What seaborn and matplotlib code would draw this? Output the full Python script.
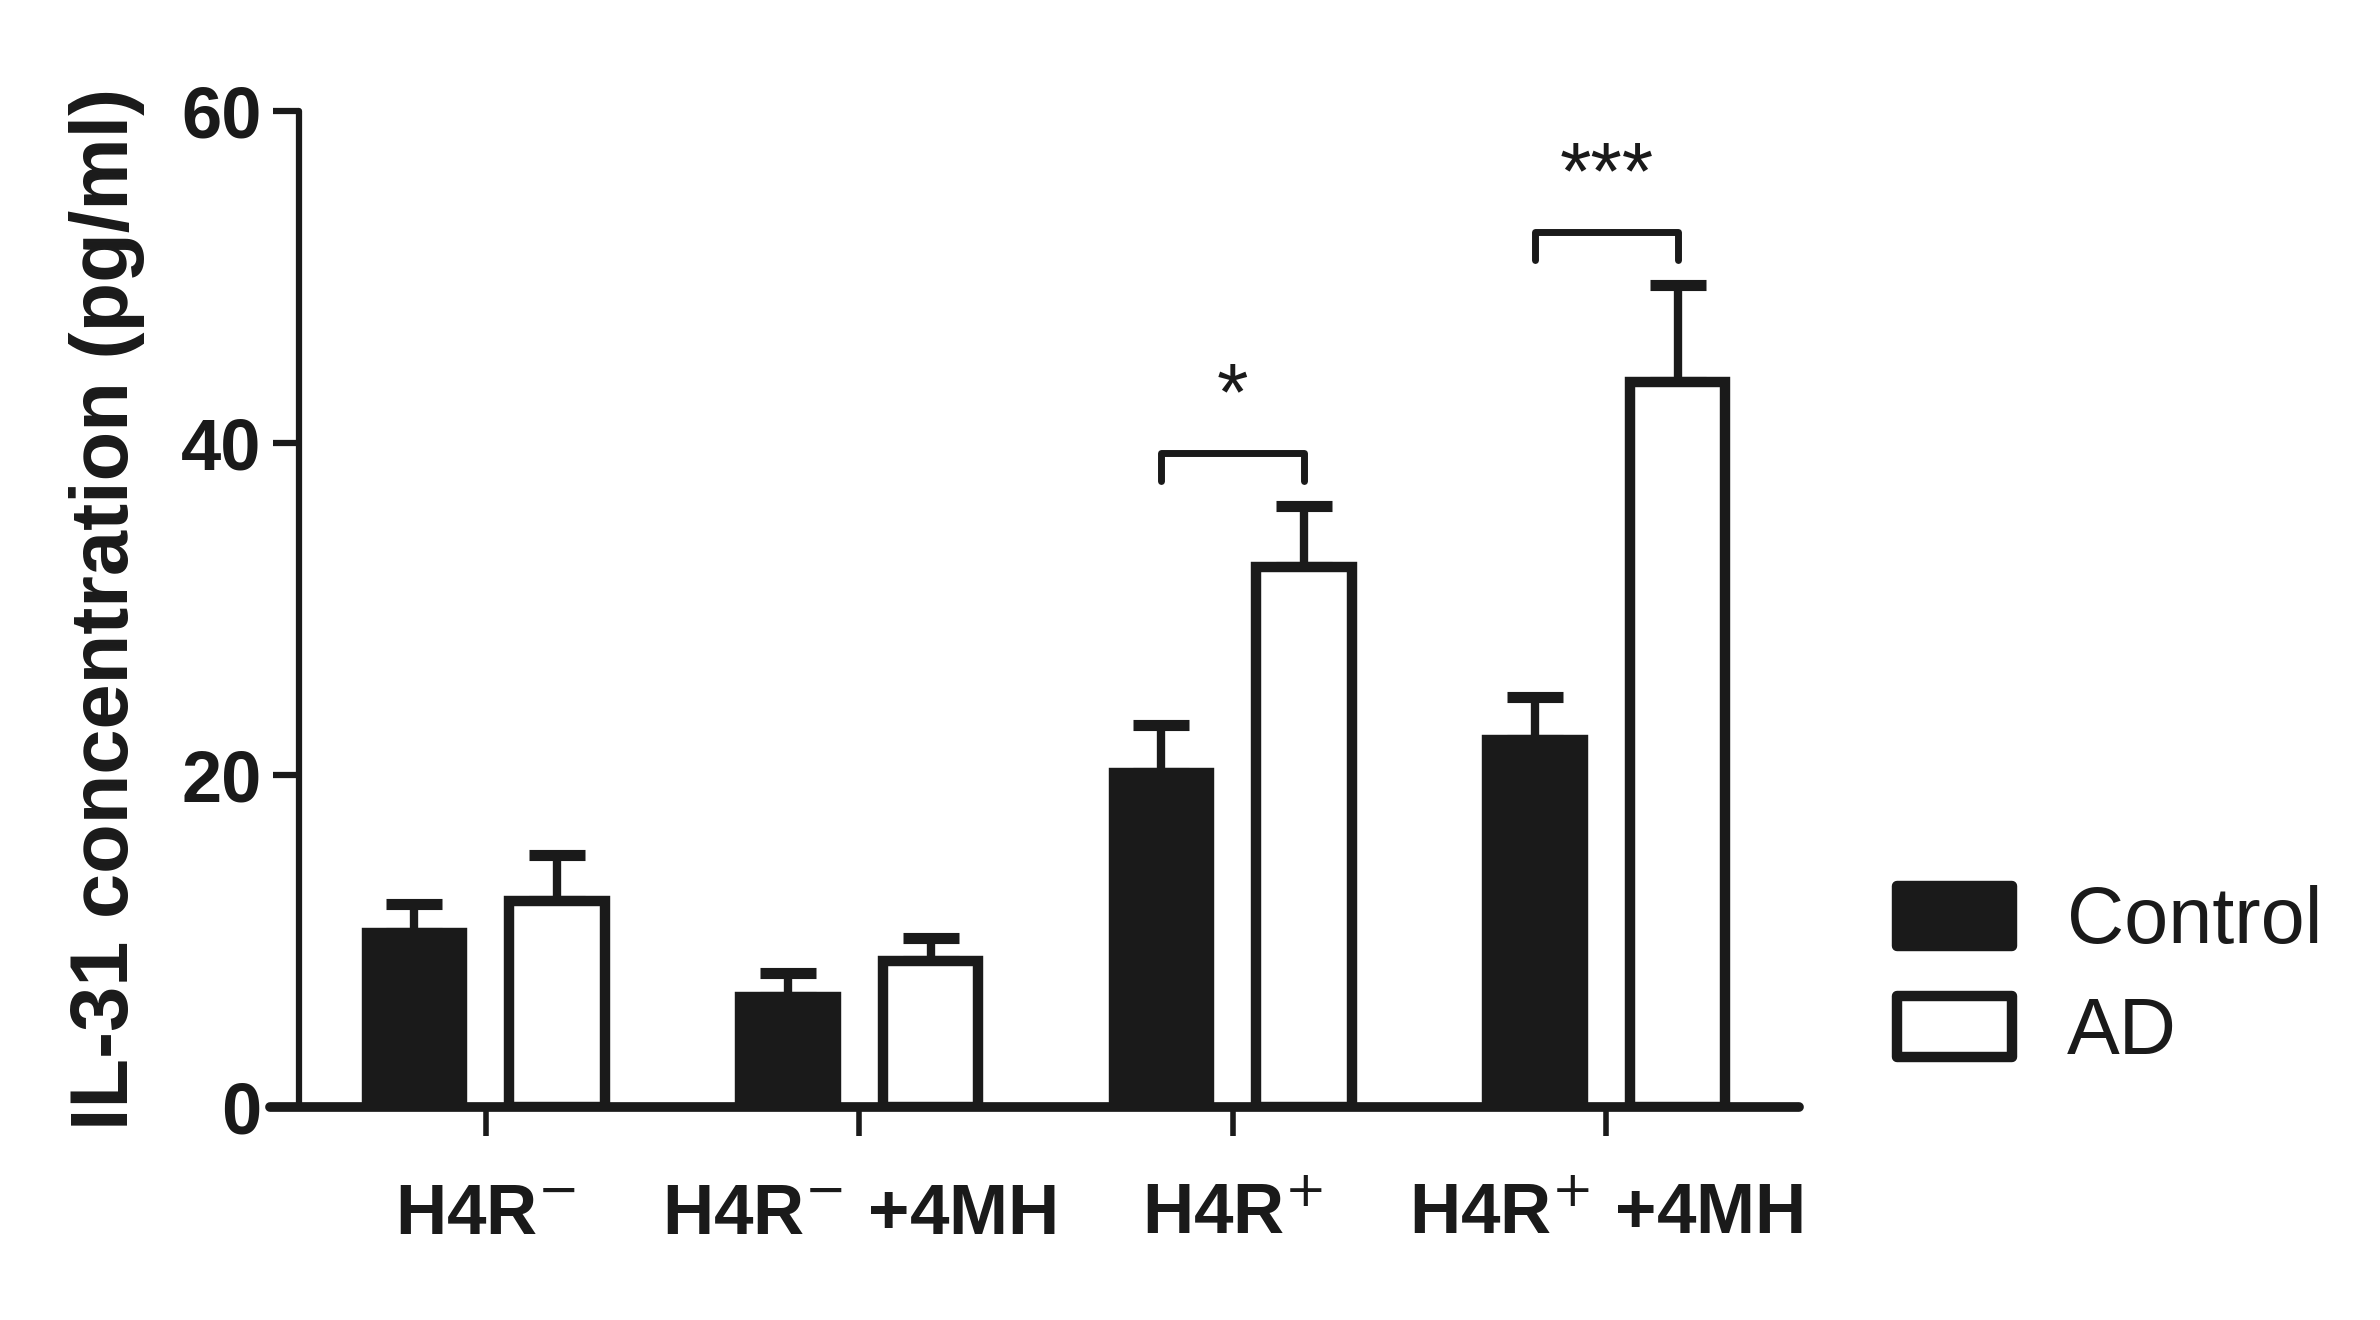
import numpy as np
import pandas as pd
import matplotlib.pyplot as plt
import seaborn as sns

# values
groups = [r"H4R$^{-}$", r"H4R$^{-}$ +4MH", r"H4R$^{+}$", r"H4R$^{+}$ +4MH"]
status = ["Control", "AD"]
control_mean = [10.5, 6.6, 20.1, 22.1]
control_err = [1.7, 1.5, 2.9, 2.6]
ad_mean = [12.4, 8.8, 32.5, 43.7]
ad_err = [2.8, 1.4, 3.7, 5.8]
sig_index = [2, 3]
sig_text = ["*", "***"]

ink = "#1a1a1a"

df = pd.DataFrame({
    "group": groups * 2,
    "status": ["Control"] * len(groups) + ["AD"] * len(groups),
    "value": control_mean + ad_mean,
})

sns.set_style("white")
plt.rcParams["font.family"] = ["Liberation Sans", "DejaVu Sans"]

fig = plt.figure(figsize=(23.8, 13.2), dpi=100)
ax = fig.add_axes([0.1135, 0.1614, 0.6424, 0.7545])

sns.barplot(
    data=df, x="group", y="value", hue="status", hue_order=status,
    palette={"Control": ink, "AD": "white"},
    width=0.764, gap=0.33, edgecolor=ink, linewidth=7.5,
    errorbar=None, ax=ax, zorder=2
)

# error bars (upper only), placed on the seaborn bars
bars = ax.patches[:2 * len(groups)]
xs = [b.get_x() + b.get_width() / 2 for b in bars]
means = control_mean + ad_mean
errs = control_err + ad_err
ax.errorbar(
    xs, means, yerr=[np.zeros(len(errs)), errs], fmt="none",
    ecolor=ink, elinewidth=6, capsize=20, capthick=8, zorder=1
)

# significance brackets
for gi, txt in zip(sig_index, sig_text):
    x1 = xs[gi]
    x2 = xs[len(groups) + gi]
    top = ad_mean[gi] + ad_err[gi] + 3.2
    ax.plot([x1, x1, x2, x2], [top - 1.7, top, top, top - 1.7],
            color=ink, lw=5, solid_joinstyle="round",
            solid_capstyle="round", clip_on=False)
    ax.text((x1 + x2) / 2, top + 3.3, txt, ha="center", va="center",
            fontsize=58, color=ink)

ax.set_xlim(-0.577, 3.516)
ax.set_ylim(0, 60)
ax.set_yticks([0, 20, 40, 60])
ax.set_xlabel("")
ax.set_ylabel("IL-31 concentration (pg/ml)", fontsize=58.5, fontweight="bold",
              color=ink, va="center")
ax.yaxis.set_label_coords(-0.107, 0.5)

sns.despine(ax=ax)
ax.spines["left"].set_position(("data", -0.5))
ax.spines["left"].set_bounds(0, 60)
ax.spines["left"].set_linewidth(4.5)
ax.spines["bottom"].set_linewidth(7)
for s in ["left", "bottom"]:
    ax.spines[s].set_color(ink)
    ax.spines[s].set_capstyle("round")

ax.tick_params(axis="x", length=21, width=4, pad=34, color=ink)
ax.tick_params(axis="y", length=19, width=4.5, pad=8, color=ink)
ax.tick_params(left=True, bottom=True)
for lab in ax.get_xticklabels():
    lab.set_fontfamily(["Liberation Sans Narrow", "Liberation Sans"])
    lab.set_fontweight("bold")
    lab.set_fontsize(51)
    lab.set_color(ink)
for lab in ax.get_yticklabels():
    lab.set_fontfamily(["Liberation Sans Narrow", "Liberation Sans"])
    lab.set_fontweight("bold")
    lab.set_fontsize(52)
    lab.set_color(ink)

handles, labels = ax.get_legend_handles_labels()
leg = ax.legend(
    handles, labels, loc="center left", bbox_to_anchor=(0.797, 0.259),
    bbox_transform=fig.transFigure, frameon=False, fontsize=57,
    handlelength=1.45, handleheight=0.8, handletextpad=0.7,
    labelspacing=0.45, borderpad=0, borderaxespad=0
)
for h in leg.legend_handles:
    h.set_edgecolor(ink)
    h.set_linewidth(7.5)
    h.set_joinstyle("round")
for t in leg.get_texts():
    t.set_color(ink)

fig.savefig("out.png", dpi=100)
